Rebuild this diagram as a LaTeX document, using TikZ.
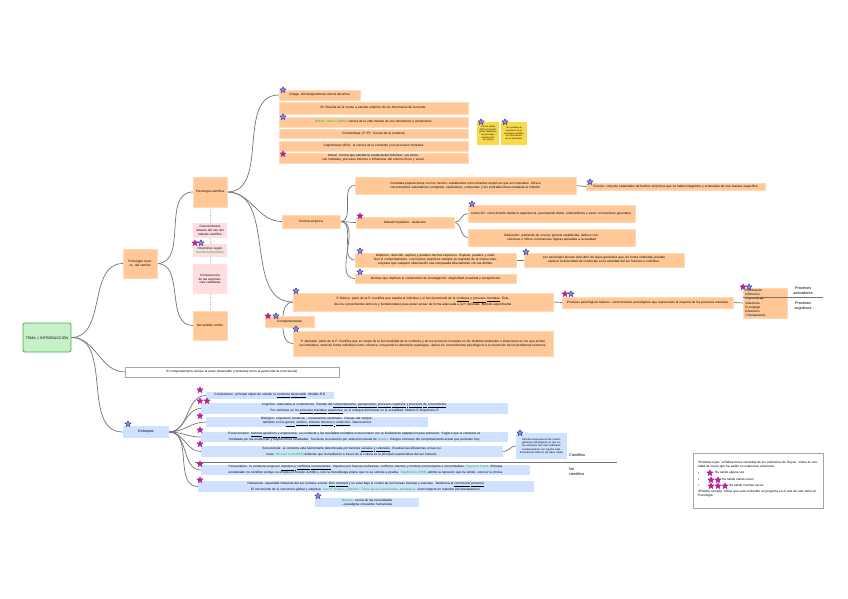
\documentclass[tikz,border=0pt]{standalone}
\usepackage{fontspec}
\setmainfont{Liberation Sans}
\usetikzlibrary{shapes.geometric}
\pgfdeclarelayer{bg}
\pgfsetlayers{bg,main}
\definecolor{org}{RGB}{255,200,150}
\definecolor{orgb}{RGB}{255,218,185}
\definecolor{pnk}{RGB}{255,221,224}
\definecolor{blu}{RGB}{207,226,255}
\definecolor{grnf}{RGB}{200,240,200}
\definecolor{grnb}{RGB}{60,176,67}
\definecolor{yel}{RGB}{248,217,74}
\definecolor{gtx}{RGB}{30,185,30}
\definecolor{lnc}{RGB}{115,115,115}
\definecolor{rsf}{RGB}{230,20,90}
\definecolor{rsb}{RGB}{130,60,210}
\definecolor{bsf}{RGB}{140,140,235}
\definecolor{bsb}{RGB}{50,50,150}
\newcommand{\gt}[1]{\textcolor{gtx}{#1}}
\newcommand{\ul}[1]{\underline{#1}}
\newcommand{\bx}[7]{%
  \pgfmathsetmacro{\mybw}{#4-#2}%
  \pgfmathsetmacro{\mybh}{#5-#3}%
  \pgfmathsetmacro{\mybtw}{#4-#2-4}%
  \pgfmathsetmacro{\mycx}{(#2+#4)/2}%
  \pgfmathsetmacro{\mycy}{(#3+#5)/2}%
  \node[bxs,#6,minimum width=\mybw pt,minimum height=\mybh pt,text width=\mybtw pt] (#1) at (\mycx,\mycy) {#7};}
\newcommand{\rs}[2]{\node[rstar] at (#1,#2) {};}
\newcommand{\bs}[2]{\node[bstar] at (#1,#2) {};}
\tikzset{
  bxs/.style={inner sep=0pt,align=center,font=\fontsize{3.15}{3.85}\selectfont},
  ob/.style={fill=org,draw=orgb,line width=0.4pt},
  pb/.style={fill=pnk,draw=none},
  lb/.style={fill=blu,draw=none},
  wb/.style={fill=white,draw=gray!70,line width=0.4pt},
  yb/.style={fill=yel,draw=none,font=\fontsize{2.2}{2.7}\selectfont},
  rootb/.style={fill=grnf,draw=grnb,line width=0.8pt,rounded corners=2pt,font=\fontsize{3.6}{4.4}\selectfont},
  conn/.style={draw=lnc,line width=0.7pt},
  dconn/.style={draw=gray!60,line width=0.5pt,dotted},
  lbl/.style={inner sep=0pt,align=left,font=\fontsize{3.8}{4.6}\selectfont},
  starbase/.style={star,star points=5,star point ratio=2.1,minimum size=6.5pt,inner sep=0pt,line width=0.4pt},
  rstar/.style={starbase,fill=rsf,draw=rsb},
  bstar/.style={starbase,fill=bsf,draw=bsb},
}
\begin{document}
\begin{tikzpicture}[x=1pt,y=-1pt]
\useasboundingbox (0,0) rectangle (848,599);

% root and first level
\bx{root}{23}{323}{71}{352}{rootb}{TEMA 1 INTRODUCCIÓN}
\bx{psi}{123}{249}{157}{278}{ob}{Psicología cient. vs. del sentido}
\bx{pc}{193}{177}{227}{207}{ob}{Psicología científica}
\bx{pk1}{193}{223}{227}{238}{pb}{Conocimientos através del uso del método científico}
\bx{pk2}{193}{244}{227}{257}{pb}{Intuiciones según \gt{Harold Kelley(1992)}}
\bx{pk3}{193}{264}{227}{294}{pb}{Consecuencia de las experiencias cotidianas}
\bx{sc}{193}{311}{227}{340}{ob}{Del sentido común}

% top list
\bx{t1}{279}{90}{360}{100}{ob}{Griego, etimológicamente ciencia del alma}
\bx{t2}{279}{102}{468}{114}{ob}{En filosofía de la mente a estudio empírico de los fenómenos de la mente.}
\bx{t3}{279}{117}{468}{127}{ob}{\gt{William James (1890)}: ciencia de la vida mental, de sus fenómenos y condiciones}
\bx{t4}{279}{129}{468}{138}{ob}{Conductistas (1ª 2ª): ciencia de la conducta}
\bx{t5}{279}{141}{468}{151}{ob}{Cognitivistas (60's): la ciencia de la conducta y los procesos mentales}
\bx{t6}{279}{153}{468}{163}{ob}{Actual: ciencia que estudia la conducta del individuo, sus procesos mentales, procesos internos e influencias del entorno físico y social.}
\bx{y1}{477}{122}{499}{145}{yb}{Ciencia desde 1879 con Wundt: primer laboratorio de psicología experimental en Leipzig}
\bx{y2}{501}{122}{527}{145}{yb}{Se considera el nacimiento de la psicología científica con la fundación de su laboratorio}

% ciencia empirica
\bx{ce}{282}{215}{340}{228}{ob}{Ciencia empírica}
\bx{c1}{355}{177}{576}{194}{ob}{Contrasta proposiciones con los hechos, establecidos conocimientos empíricos que son naturales. Ofrece conocimientos sistemáticos completos, explicativos, coherentes y sin contradicciones mediante el método.}
\bx{c1d}{586}{183}{765}{190}{ob}{Ciencia: conjunto sistemático de hechos empíricos que se hallan integrados y ordenados de una manera específica}
\bx{mh}{356}{217}{454}{228}{ob}{Método hipotético - deductivo}
\bx{ind}{468}{205}{635}{222}{ob}{Inducción: conocimiento desde la experiencia, acumulando datos, ordenándolos y sacar conclusiones generales.}
\bx{ded}{468}{229}{635}{246}{ob}{Deducción: partiendo de una ley general establecida, deduce conclusiones e infiere conclusiones lógicas aplicadas a la realidad}
\bx{obj}{355}{253}{516}{267}{ob}{Objetivos: describir, explicar y predecir hechos empíricos. Explicar, predecir y modificar el comportamiento. Los hechos empíricos siempre se registran de la misma manera para que cualquier observación sea comparada directamente con las demás.}
\bx{objd}{524}{253}{684}{267}{ob}{Los psicólogos buscan descubrir las leyes generales que, de forma ordenada, puedan explicar la diversidad de conductas en la actividad del ser humano e individuo.}
\bx{nor}{355}{274}{516}{283}{ob}{Normas que implican el compromiso de investigación: objetividad, exactitud y escepticismo}

% complementarias
\bx{pba}{293}{293}{553}{311}{ob}{P. Básica: parte de la P. científica que estudia al individuo y el funcionamiento de la \ul{conducta} y \ul{procesos} \ul{mentales}. Estudia los conocimientos teóricos y fundamentales para poder actuar de forma adecuada a la P. Aplicada. Método experimental}
\bx{apl}{293}{331}{553}{356}{ob}{P. Aplicada: parte de la P. científica que se ocupa de la funcionalidad de la conducta y de los procesos mentales en los distintos ambientes o situaciones en los que actúan los individuos, tanto de forma individual como colectiva, incluyendo la dimensión patológica. Aplica los conocimientos psicológicos a la resolución de los problemas humanos.}
\bx{comp}{265}{316}{314}{327}{ob}{Complementarias}
\bx{ppb}{562}{297}{733}{308}{ob}{Procesos psicológicos básicos: conocimientos psicológicos que representan la mayoría de los procesos mentales}
\bx{lst}{743}{288}{787}{318}{ob,align=left,font=\fontsize{3.1}{4.2}\selectfont}{1.Motivación\\2.Emoción\\3.Aprendizaje\\4.Memoria\\5.Lenguaje\\6.Atención\\7.Pensamiento}
\node[lbl,align=center] (pact) at (803,291) {Procesos\\activadores};
\node[lbl,align=center] (pcog) at (803,306) {Procesos\\cognitivos};
\coordinate (sepa) at (743,297);
\coordinate (sepb) at (823,297);
\coordinate (cjt) at (283,316);
\coordinate (cjb) at (283,327);

% comportamiento / enfoques
\bx{com}{125}{367}{339}{377}{wb}{El comportamiento incluye la parte observable (conducta) como la parte interna (conciencia)}
\bx{enf}{123}{426}{169}{438}{lb,font=\fontsize{3.6}{4.4}\selectfont}{Enfoques}
\bx{e1}{206}{392}{334}{399}{lb}{Conductismo: principal objeto de estudio la \ul{conducta} \ul{observable}. Modelo E-R}
\bx{e2}{201}{403}{508}{414}{lb}{Cognitivo: alternativa al conductismo. Estudio del \ul{comportamiento,} \ul{pensamiento,} \ul{procesos} \ul{cognitivos} \ul{y} \ul{procesos} \ul{de} \ul{conocimiento}. Por centrarse en los \ul{procesos} \ul{mentales} \ul{superiores}, es el enfoque dominante en la actualidad. Modelo E-Organismo-R}
\bx{e3}{206}{417}{428}{427}{lb}{Biológico: relaciones conducta -- mecanismos cerebrales. Causas del comportamiento en los \ul{genes,} \ul{cerebro,} \ul{sistema} \ul{nervioso} \ul{y} \ul{endocrino}. Neurociencia}
\bx{e4}{201}{432}{508}{442}{lb}{Evolucionismo: \ul{factores} \ul{genéticos} \ul{y} \ul{experiencia}. La conducta y las facultades mentales evolucionaron con la finalidad de adaptación para sobrevivir. Sugiere que la conducta es moldeada por las tendencias y disposiciones heredadas. Teoría de la evolución por selección natural de \gt{Darwin}. Rasgos comunes del comportamiento actual que persisten hoy.}
\bx{e5}{201}{446}{503}{457}{lb}{Sociocultural: la conducta está fuertemente determinada por factores \ul{sociales} \ul{y} \ul{culturales}. Estudian las diferencias en las culturas. \gt{Michael Cole(2003)} defiende que la mediación a través de la cultura es la principal característica del ser humano.}
\bx{nt}{516}{433}{567}{459}{lb,font=\fontsize{2.6}{3.2}\selectfont}{Dificulta respuesta de las investigaciones psicológicas ya que estos enfoques han sido realizados exclusivamente con sujetos estadounidenses blancos de clase media}
\bx{e6}{201}{465}{530}{475}{lb}{Psicoanálisis: la conducta surge por \ul{impulsos} \ul{y} \ul{conflictos} \ul{inconscientes}. Impulsos por fuerzas irreflexivas, conflictos internos y motivos inconscientes e incontrolables. \gt{Sigmund Freud}. Enfoque considerado no científico porque no emplea el método científico, sino la metodología propia que no se somete a prueba. \gt{Seudónimo (1896)} admite la represión que ha tenido, conocer la clínica.}
\bx{e7}{198}{481}{534}{492}{lb}{Humanista: capacidad inherente del ser humano a tener \ul{libre} \ul{voluntad} y no estar bajo el control de las fuerzas internas y externas. Tendencia al \ul{crecimiento} \ul{personal}. El crecimiento de la conciencia global y subjetiva. \gt{Carl R. Rogers y Maslow: Teoría de las necesidades, paradigma}. Gran impacto en métodos psicoterapéuticos.}
\bx{mas}{315}{498}{419}{507}{lb}{\gt{Maslow} - teoría de las necesidades -- paradigma relevantes humanistas}
\node[lbl,anchor=west] (cien) at (569,455) {Científico};
\node[lbl,anchor=west] (nocien) at (569,472) {No\\científico};
\coordinate (cla) at (195,462);
\coordinate (clb) at (617,462);

% legend
\bx{leg}{693}{453}{823}{508}{wb}{}
\node[bxs,align=left,text width=120pt,anchor=north west] (lg1) at (698,461) {•Estrellas rojas: señalizaciones extraídas de los exámenes de Reyes. Indica la cantidad de veces que ha salido en exámenes anteriores.};
\node[bxs,anchor=west] (lb1) at (698,474) {•};
\node[bxs,anchor=west] (lb2) at (698,480) {•};
\node[bxs,anchor=west] (lb3) at (698,486) {•};
\node[bxs,anchor=west] (lt1) at (715,473) {Ha salido alguna vez};
\node[bxs,anchor=west] (lt2) at (722,479) {Ha salido varias veces};
\node[bxs,anchor=west] (lt3) at (729,485) {Ha salido muchas veces};
\node[bxs,align=left,text width=120pt,anchor=north west] (lg2) at (698,490) {•Estrella morada: indica que este contenido es pregunta en el test de este tema en Psicología.};

% connectors
\begin{pgfonlayer}{bg}
\draw[conn] (root.east) to[out=0,in=180] (psi.west);
\draw[conn] (root.east) to[out=0,in=180] (com.west);
\draw[conn] (root.east) to[out=0,in=180] (enf.west);
\draw[conn] (psi.east) to[out=0,in=180] (pc.west);
\draw[conn] (psi.east) to[out=0,in=180] (sc.west);
\draw[dconn] (pc.south) -- (pk1.north);
\draw[dconn] (pk1.south) -- (pk2.north);
\draw[dconn] (pk2.south) -- (pk3.north);
\draw[dconn] (pk3.south) -- (sc.north);
\draw[conn] (pc.east) to[out=0,in=180] (t1.west);
\draw[conn] (pc.east) to[out=0,in=180] (ce.west);
\draw[conn] (pc.east) to[out=0,in=180] (pba.west);
\draw[conn] (cjt) to[out=90,in=180] (pba.west);
\draw[conn] (cjb) to[out=-90,in=180] (apl.west);
\draw[conn] (ce.east) to[out=0,in=180] (c1.west);
\draw[conn] (ce.east) to[out=0,in=180] (mh.west);
\draw[conn] (ce.east) to[out=0,in=180] (obj.west);
\draw[conn] (ce.east) to[out=0,in=180] (nor.west);
\draw[conn] (c1.east) -- (c1d.west);
\draw[conn] (mh.east) to[out=0,in=180] (ind.west);
\draw[conn] (mh.east) to[out=0,in=180] (ded.west);
\draw[conn] (obj.east) -- (objd.west);
\draw[conn] (pba.east) -- (ppb.west);
\draw[conn] (ppb.east) -- (lst.west);
\draw[conn] (enf.east) to[out=0,in=180] (e1.west);
\draw[conn] (enf.east) to[out=0,in=180] (e2.west);
\draw[conn] (enf.east) to[out=0,in=180] (e3.west);
\draw[conn] (enf.east) to[out=0,in=180] (e4.west);
\draw[conn] (enf.east) to[out=0,in=180] (e5.west);
\draw[conn] (enf.east) to[out=0,in=180] (e6.west);
\draw[conn] (enf.east) to[out=0,in=180] (e7.west);
\draw[conn] (e5.east) to[out=0,in=180] (nt.west);
\draw[dconn] (e7.south) -- (mas.north);
\end{pgfonlayer}
\draw[conn,line width=0.5pt] (cla) -- (clb);
\draw[conn,line width=0.5pt] (sepa) -- (sepb);

% stars
\bs{283}{90} \bs{283}{117} \bs{481}{122} \bs{505}{122} \bs{590}{182}
\bs{472}{204} \bs{360}{251} \bs{526}{252} \bs{360}{272} \bs{296}{291}
\bs{571}{294} \bs{749}{287} \bs{296}{329} \bs{276}{316} \bs{201}{243}
\bs{128}{424} \bs{520}{433} \bs{318}{496}
\rs{283}{154} \rs{360}{216} \rs{565}{294} \rs{743}{287} \rs{268}{316}
\rs{195}{243} \rs{200}{390} \rs{200}{401} \rs{207}{401} \rs{200}{416}
\rs{200}{430} \rs{200}{444} \rs{200}{464} \rs{200}{480}
\rs{710}{473} \rs{711}{480} \rs{718}{480} \rs{711}{486} \rs{718}{486} \rs{725}{486}
\end{tikzpicture}
\end{document}
